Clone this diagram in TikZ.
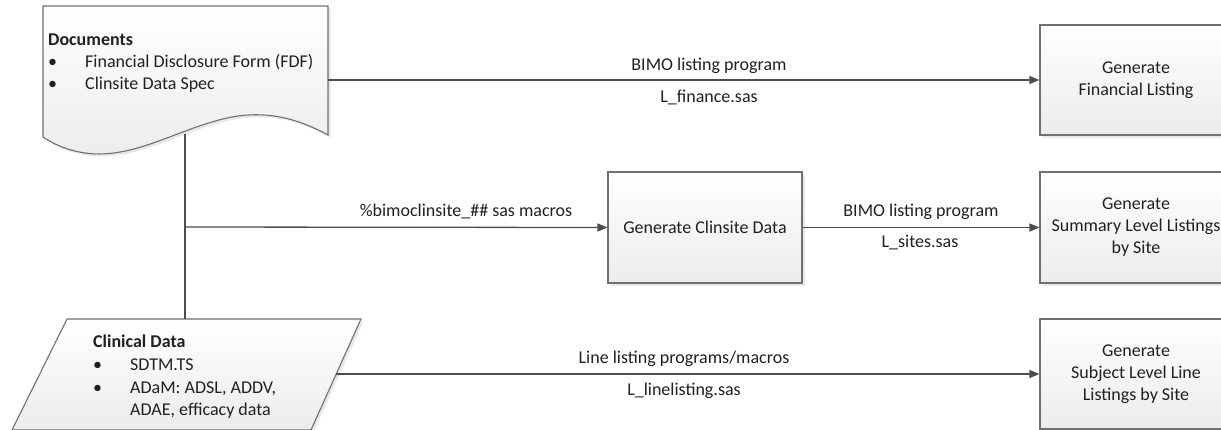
\documentclass[tikz,border=0pt]{standalone}
\usepackage{fontspec}
\setmainfont{Carlito}
\usetikzlibrary{arrows.meta,shadows,positioning}
\definecolor{linec}{HTML}{4D4D4D}
\definecolor{edgec}{HTML}{707070}
\definecolor{botc}{HTML}{ECECEC}
\definecolor{txtc}{HTML}{202020}
\tikzset{
  shapefill/.style={draw=edgec, line width=1.1pt, top color=white, bottom color=botc,
    drop shadow={shadow xshift=2.5pt, shadow yshift=-2.5pt, fill=black!15, opacity=0.6}},
  procbox/.style={shapefill, minimum width=192pt, minimum height=110pt, inner sep=0pt,
    align=center, text=txtc, font=\fontsize{18}{22}\selectfont},
  conn/.style={draw=linec, line width=1.3pt},
  arr/.style={conn, -{Triangle[length=10pt,width=8pt]}},
  lbl/.style={anchor=base, inner sep=0pt, text=txtc, font=\fontsize{18}{22}\selectfont},
  txt/.style={anchor=base west, inner sep=0pt, text=txtc, font=\fontsize{18}{22}\selectfont},
}
\begin{document}
\begin{tikzpicture}[x=1pt,y=-1pt]
\useasboundingbox (0,0) rectangle (1221,429);
\begin{scope}
\clip (0,0) rectangle (1221,429);
% Documents shape
\path[shapefill] (43,6) -- (328,6) -- (328,135)
  .. controls (295,117) and (265,111) .. (232,117)
  .. controls (180,127) and (135,160) .. (85,153)
  .. controls (65,150) and (52,143) .. (43,137) -- cycle;
% Clinical data parallelogram
\path[shapefill] (67,319) -- (361,319) -- (311,430) -- (12,430) -- cycle;
% process boxes
\node[procbox] (fin) at (1136,80) {Generate\\Financial Listing};
\node[procbox, minimum height=111pt] (sum) at (1136,227.5) {Generate\\Summary Level Listings\\by Site};
\node[procbox, minimum height=110pt] (subj) at (1136,374) {Generate\\Subject Level Line\\Listings by Site};
\node[procbox, minimum width=194pt, minimum height=111pt] (clin) at (705,227.5) {Generate Clinsite Data};
\end{scope}
% texts of documents
\node[txt, font=\fontsize{18}{22}\selectfont\bfseries] (dt) at (48,45) {Documents};
\node[txt] (db1) at (48,67) {•};
\node[txt] (di1) at (85,67) {Financial Disclosure Form (FDF)};
\node[txt] (db2) at (48,89) {•};
\node[txt] (di2) at (85,89) {Clinsite Data Spec};
% texts of clinical data
\node[txt, font=\fontsize{18}{22}\selectfont\bfseries] (ct) at (93,347) {Clinical Data};
\node[txt] (cb1) at (93,370) {•};
\node[txt] (ci1) at (130,370) {SDTM.TS};
\node[txt] (cb2) at (93,393) {•};
\node[txt] (ci2) at (130,393) {ADaM: ADSL, ADDV,};
\node[txt] (ci3) at (130,415) {ADAE, efficacy data};
% connector coordinates
\coordinate (docout) at (328,80);
\coordinate (docbot) at (185,134);
\coordinate (junc) at (185,227);
\coordinate (clintop) at (185,319);
\coordinate (clinout) at (336,374);
% connectors
\draw[arr] (docout) -- (fin.west);
\draw[conn] (docbot) -- (clintop);
\draw[arr] (junc) -- (clin.west);
\draw[arr] (clin.east) -- (sum.west);
\draw[arr] (clinout) -- (subj.west);
% labels
\node[lbl] (l1a) at (709,70) {BIMO listing program};
\node[lbl] (l1b) at (709,102) {L\_finance.sas};
\node[lbl] (l2a) at (466,216) {\%bimoclinsite\_\#\# sas macros};
\node[lbl] (l3a) at (921,216) {BIMO listing program};
\node[lbl] (l3b) at (920,247) {L\_sites.sas};
\node[lbl] (l4a) at (684,363) {Line listing programs/macros};
\node[lbl] (l4b) at (684,395) {L\_linelisting.sas};
\end{tikzpicture}
\end{document}
